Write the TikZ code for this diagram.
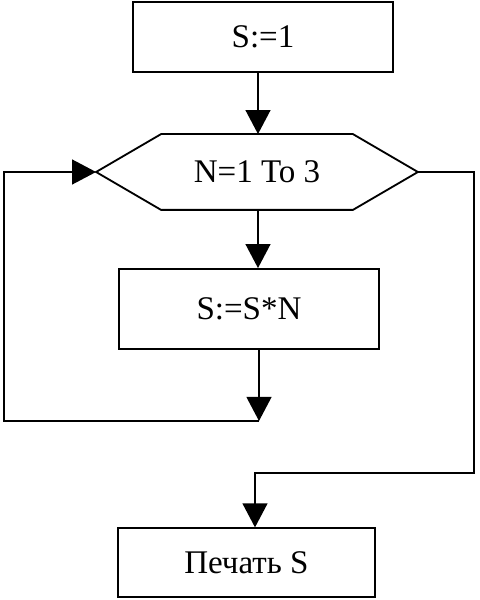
\documentclass[tikz,border=0pt]{standalone}
\usepackage{fontspec}
\setmainfont{Liberation Serif}
\usetikzlibrary{arrows.meta, positioning, calc}
\begin{document}
\begin{tikzpicture}[>={Triangle[length=0.6cm, width=0.62cm]}, line width=1.3pt,
    txt/.style={font=\fontsize{23.5}{28}\selectfont, inner sep=0pt},
    blk/.style={txt, draw, rectangle, minimum width=6.5cm},
    flow/.style={->, line width=1.3pt}]
\useasboundingbox (0,0) rectangle (12,15);
% initial assignment
\node[blk, minimum height=1.75cm] (init) at (6.575, 14.08) {S:=1};
% loop header: hexagon drawn round an invisible node
\node[txt, minimum width=8cm, minimum height=1.85cm] (loop) at (6.425, 10.7) {N=1 To 3};
\draw (loop.west) -- ($(loop.north west)+(1.625,0)$) -- ($(loop.north east)+(-1.625,0)$)
    -- (loop.east) -- ($(loop.south east)+(-1.625,0)$) -- ($(loop.south west)+(1.625,0)$) -- cycle;
% loop body and output
\node[blk, minimum height=2cm] (body) at (6.225, 7.275) {S:=S*N};
\node[blk, minimum width=6.425cm, minimum height=1.725cm] (print) at (6.16, 0.93) {Печать S};
% main axis of the flow
\coordinate (ax) at (6.45, 0);
\draw[flow] (init.south -| ax) -- (loop.north -| ax);
\draw[flow] (loop.south -| ax) -- (body.north -| ax);
% back to the loop header
\coordinate (back) at (6.475, 4.475);
\coordinate (lx) at (0.1, 0);
\draw[flow] (body.south -| back) -- (back);
\draw[flow] (back) -- (back -| lx) |- (loop.west);
% leaving the loop
\coordinate (rx) at (11.85, 3.175);
\coordinate (fx) at (6.375, 0);
\draw[flow] (loop.east) -| (rx) -| (print.north -| fx);
\end{tikzpicture}
\end{document}
